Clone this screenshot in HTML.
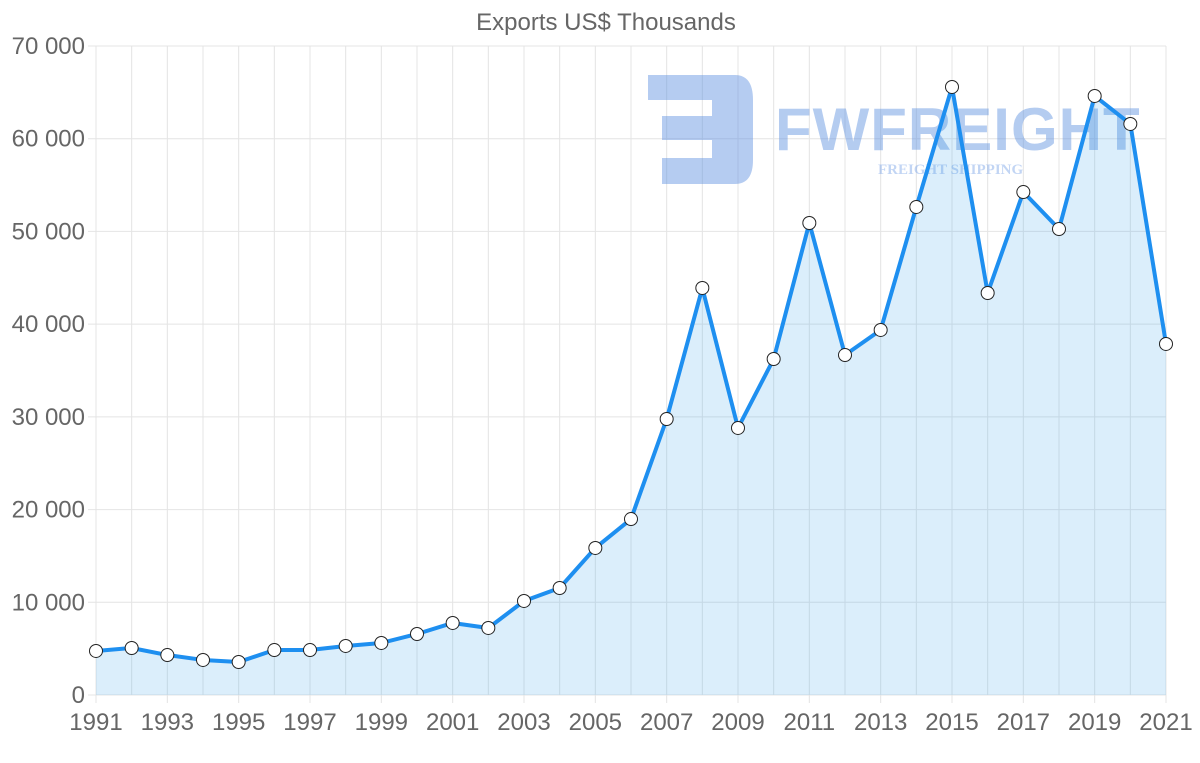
<!DOCTYPE html>
<html><head><meta charset="utf-8"><style>
html,body{margin:0;padding:0;background:#fff;width:1200px;height:763px;overflow:hidden;font-family:"Liberation Sans",sans-serif}
</style></head><body>
<svg id="chart" width="1200" height="763" xmlns="http://www.w3.org/2000/svg">
<text x="606" y="30" text-anchor="middle" font-size="24" fill="#666">Exports US$ Thousands</text>
<g id="grid"></g>
<g id="wm" opacity="0.45">
<path d="M648 75 H735 Q753 75 753 100 V160 Q753 184 735 184 H662 V158 H712 V140 H662 V116 H712 V100 H648 Z" fill="#5b8fe0"/>
<text x="775" y="150" font-size="60" font-weight="bold" fill="#5b8fe0" letter-spacing="1">FWFREIGHT</text>
<text x="878" y="174" font-size="15" font-family="Liberation Serif,serif" font-weight="bold" fill="#7aa4e8">FREIGHT SHIPPING</text>
</g>
<g id="series"></g>
<g id="axes"></g>
</svg>
<script>
const years=[1991,1992,1993,1994,1995,1996,1997,1998,1999,2000,2001,2002,2003,2004,2005,2006,2007,2008,2009,2010,2011,2012,2013,2014,2015,2016,2017,2018,2019,2020,2021];
const exportsValues=[4750,5070,4310,3780,3560,4850,4850,5290,5610,6580,7770,7230,10140,11540,15860,18980,29770,43900,28800,36240,50910,36670,39370,52640,65580,43360,54250,50260,64610,61590,37860];
const yTicks=[0,10000,20000,30000,40000,50000,60000,70000];
const yTickLabels=["0","10 000","20 000","30 000","40 000","50 000","60 000","70 000"];
const NS="http://www.w3.org/2000/svg";
const X0=96,X1=1166,Y0=695,Y1=46;
const xs=i=>X0+(X1-X0)*i/(years.length-1);
const ys=v=>Y0-(Y0-Y1)*v/70000;
function mk(t,a,p){const e=document.createElementNS(NS,t);for(const k in a)e.setAttribute(k,a[k]);p.appendChild(e);return e;}
const grid=document.getElementById('grid'),axes=document.getElementById('axes'),ser=document.getElementById('series');
years.forEach((y,i)=>{
 const l=mk('line',{x1:xs(i),x2:xs(i),y1:Y1,y2:Y0+(i%2==0?8:0),stroke:'#e4e4e4','stroke-width':1},grid);
 
 
 if(i%2==0){const t=mk('text',{x:xs(i),y:730,'text-anchor':'middle','font-size':24,fill:'#666'},axes);t.textContent=y;
 
 }
});
yTicks.forEach((v,i)=>{
 const l=mk('line',{x1:X0-8,x2:X1,y1:ys(v),y2:ys(v),stroke:'#e4e4e4','stroke-width':1},grid);
 
 
 const t=mk('text',{x:85,y:ys(v)+8,'text-anchor':'end','font-size':24,fill:'#666'},axes);t.textContent=yTickLabels[i];
 
 
});
let d=exportsValues.map((v,i)=>(i?'L':'M')+xs(i)+' '+ys(v)).join(' ');
const area=mk('path',{d:d+` L${X1} ${Y0} L${X0} ${Y0} Z`,fill:'rgba(54,162,235,0.18)'},ser);


const line=mk('path',{d:d,fill:'none',stroke:'#1e8ff0','stroke-width':4,'stroke-linejoin':'round'},ser);


exportsValues.forEach((v,i)=>{
 const c=mk('circle',{cx:xs(i),cy:ys(v),r:6.5,fill:'#fff',stroke:'#222','stroke-width':1},ser);
 
 
});
</script>
</body></html>
